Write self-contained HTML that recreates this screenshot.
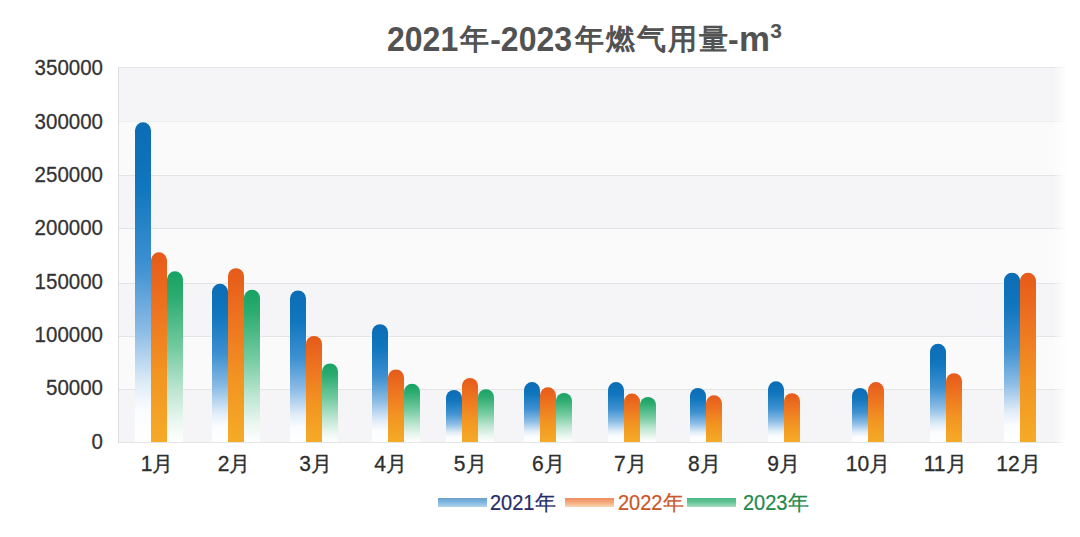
<!DOCTYPE html>
<html><head><meta charset="utf-8">
<style>
html,body{margin:0;padding:0;background:#fff;}
body{width:1080px;height:537px;position:relative;overflow:hidden;font-family:"Liberation Sans",sans-serif;}
svg{position:absolute;left:0;top:0;}
.title{position:absolute;left:387px;top:20px;font-size:32px;font-weight:bold;color:#525252;line-height:40px;white-space:nowrap;}
.cj{font-size:29px;letter-spacing:2px;position:relative;top:-2px;}
.d{display:inline-block;transform:scaleY(1.08);transform-origin:0 29px;}
.title sup{font-size:21px;vertical-align:top;position:relative;top:-9.5px;margin-left:3px;}
.yl{position:absolute;left:0;width:103px;text-align:right;font-size:20.5px;line-height:24px;color:#333;-webkit-text-stroke:0.25px #333;transform:scaleY(1.07);transform-origin:0 19.1px;}
.dx{display:inline-block;transform:scaleY(1.07);transform-origin:0 19.3px;}
.xl{position:absolute;top:452px;width:80px;text-align:center;font-size:21px;line-height:24px;color:#2e2e2e;-webkit-text-stroke:0.3px #2e2e2e;}
.ds{display:inline-block;transform:scaleY(1.09);transform-origin:0 19px;}
.c2{font-size:21px;}
.lg{position:absolute;top:491px;font-size:20px;line-height:24px;white-space:nowrap;-webkit-text-stroke:0.2px currentColor;}
.sw{position:absolute;height:9px;width:49px;top:498px;}
</style></head><body>
<svg width="1080" height="537" viewBox="0 0 1080 537">
<defs>
<linearGradient id="gb" x1="0" y1="0" x2="0" y2="1">
<stop offset="0" stop-color="#0b6cb4"/>
<stop offset="0.2" stop-color="#1076be"/>
<stop offset="0.45" stop-color="#3f91d1"/>
<stop offset="0.65" stop-color="#8abbe5"/>
<stop offset="0.82" stop-color="#e0edf8"/>
<stop offset="0.9" stop-color="#fafcff"/>
<stop offset="1" stop-color="#ffffff"/>
</linearGradient>
<linearGradient id="go" x1="0" y1="0" x2="0" y2="1">
<stop offset="0" stop-color="#e65a1a"/>
<stop offset="0.3" stop-color="#ed7420"/>
<stop offset="0.65" stop-color="#f29522"/>
<stop offset="1" stop-color="#f5ab27"/>
</linearGradient>
<linearGradient id="gg" x1="0" y1="0" x2="0" y2="1">
<stop offset="0" stop-color="#17a263"/>
<stop offset="0.15" stop-color="#2dac70"/>
<stop offset="0.45" stop-color="#74cba0"/>
<stop offset="0.7" stop-color="#bee6d2"/>
<stop offset="0.88" stop-color="#eaf7f0"/>
<stop offset="1" stop-color="#ffffff"/>
</linearGradient>
<linearGradient id="fade" x1="0" y1="0" x2="1" y2="0">
<stop offset="0" stop-color="#fff" stop-opacity="0"/>
<stop offset="1" stop-color="#fff" stop-opacity="1"/>
</linearGradient>
</defs>
<rect x="118" y="67" width="948" height="54" fill="#f5f5f7"/><rect x="118" y="121" width="948" height="54" fill="#fafafb"/><rect x="118" y="175" width="948" height="53" fill="#f5f5f7"/><rect x="118" y="228" width="948" height="55" fill="#fafafb"/><rect x="118" y="283" width="948" height="53" fill="#f5f5f7"/><rect x="118" y="336" width="948" height="53" fill="#fafafb"/><rect x="118" y="389" width="948" height="53" fill="#f5f5f7"/>
<rect x="118" y="67" width="946" height="1" fill="#e3e4e6"/><rect x="118" y="121" width="946" height="1" fill="#eeeff1"/><rect x="118" y="175" width="946" height="1" fill="#e3e4e6"/><rect x="118" y="228" width="946" height="1" fill="#e3e4e6"/><rect x="118" y="283" width="946" height="1" fill="#e3e4e6"/><rect x="118" y="336" width="946" height="1" fill="#e3e4e6"/><rect x="118" y="389" width="946" height="1" fill="#e3e4e6"/><rect x="118" y="442" width="946" height="1" fill="#e3e4e6"/><rect x="118" y="67" width="1" height="376" fill="#dcdde0"/>
<rect x="1053" y="60" width="14" height="390" fill="url(#fade)"/>
<path d="M135.0 442 V130.3 A8 8 0 0 1 151.0 130.3 V442 Z" fill="url(#gb)"/><path d="M151.0 442 V260.3 A8 8 0 0 1 167.0 260.3 V442 Z" fill="url(#go)"/><path d="M167.0 442 V279.3 A8 8 0 0 1 183.0 279.3 V442 Z" fill="url(#gg)"/><path d="M212.0 442 V291.8 A8 8 0 0 1 228.0 291.8 V442 Z" fill="url(#gb)"/><path d="M228.0 442 V276.2 A8 8 0 0 1 244.0 276.2 V442 Z" fill="url(#go)"/><path d="M244.0 442 V297.8 A8 8 0 0 1 260.0 297.8 V442 Z" fill="url(#gg)"/><path d="M290.0 442 V298.4 A8 8 0 0 1 306.0 298.4 V442 Z" fill="url(#gb)"/><path d="M306.0 442 V344.0 A8 8 0 0 1 322.0 344.0 V442 Z" fill="url(#go)"/><path d="M322.0 442 V371.5 A8 8 0 0 1 338.0 371.5 V442 Z" fill="url(#gg)"/><path d="M372.0 442 V332.2 A8 8 0 0 1 388.0 332.2 V442 Z" fill="url(#gb)"/><path d="M388.0 442 V377.4 A8 8 0 0 1 404.0 377.4 V442 Z" fill="url(#go)"/><path d="M404.0 442 V391.8 A8 8 0 0 1 420.0 391.8 V442 Z" fill="url(#gg)"/><path d="M446.0 442 V398.0 A8 8 0 0 1 462.0 398.0 V442 Z" fill="url(#gb)"/><path d="M462.0 442 V386.0 A8 8 0 0 1 478.0 386.0 V442 Z" fill="url(#go)"/><path d="M478.0 442 V397.2 A8 8 0 0 1 494.0 397.2 V442 Z" fill="url(#gg)"/><path d="M524.0 442 V390.1 A8 8 0 0 1 540.0 390.1 V442 Z" fill="url(#gb)"/><path d="M540.0 442 V395.3 A8 8 0 0 1 556.0 395.3 V442 Z" fill="url(#go)"/><path d="M556.0 442 V400.9 A8 8 0 0 1 572.0 400.9 V442 Z" fill="url(#gg)"/><path d="M608.0 442 V390.1 A8 8 0 0 1 624.0 390.1 V442 Z" fill="url(#gb)"/><path d="M624.0 442 V401.6 A8 8 0 0 1 640.0 401.6 V442 Z" fill="url(#go)"/><path d="M640.0 442 V405.0 A8 8 0 0 1 656.0 405.0 V442 Z" fill="url(#gg)"/><path d="M690.0 442 V396.0 A8 8 0 0 1 706.0 396.0 V442 Z" fill="url(#gb)"/><path d="M706.0 442 V403.3 A8 8 0 0 1 722.0 403.3 V442 Z" fill="url(#go)"/><path d="M768.0 442 V389.3 A8 8 0 0 1 784.0 389.3 V442 Z" fill="url(#gb)"/><path d="M784.0 442 V401.2 A8 8 0 0 1 800.0 401.2 V442 Z" fill="url(#go)"/><path d="M852.0 442 V396.0 A8 8 0 0 1 868.0 396.0 V442 Z" fill="url(#gb)"/><path d="M868.0 442 V390.1 A8 8 0 0 1 884.0 390.1 V442 Z" fill="url(#go)"/><path d="M930.0 442 V351.8 A8 8 0 0 1 946.0 351.8 V442 Z" fill="url(#gb)"/><path d="M946.0 442 V381.2 A8 8 0 0 1 962.0 381.2 V442 Z" fill="url(#go)"/><path d="M1004.0 442 V280.7 A8 8 0 0 1 1020.0 280.7 V442 Z" fill="url(#gb)"/><path d="M1020.0 442 V280.8 A8 8 0 0 1 1036.0 280.8 V442 Z" fill="url(#go)"/>
</svg>
<div class="title"><span class="d">2021</span><span class="cj" style="margin-left:2px">年</span><span style="margin-left:-1px;position:relative;top:-1px">-</span><span class="d">2023</span><span class="cj" style="margin-left:3px">年燃气用量</span><span style="margin-left:-2px;position:relative;top:-1px">-</span><span class="d" style="transform:scale(1.09,1.08)">m</span><sup>3</sup></div>
<div class="yl" style="top:56.4px">350000</div><div class="yl" style="top:109.7px">300000</div><div class="yl" style="top:163.0px">250000</div><div class="yl" style="top:216.3px">200000</div><div class="yl" style="top:269.6px">150000</div><div class="yl" style="top:322.9px">100000</div><div class="yl" style="top:376.2px">50000</div><div class="yl" style="top:429.5px">0</div>
<div class="xl" style="left:117.1px"><span class="dx">1</span>月</div><div class="xl" style="left:194.0px"><span class="dx">2</span>月</div><div class="xl" style="left:275.6px"><span class="dx">3</span>月</div><div class="xl" style="left:350.6px"><span class="dx">4</span>月</div><div class="xl" style="left:430.2px"><span class="dx">5</span>月</div><div class="xl" style="left:508.4px"><span class="dx">6</span>月</div><div class="xl" style="left:590.3px"><span class="dx">7</span>月</div><div class="xl" style="left:664.4px"><span class="dx">8</span>月</div><div class="xl" style="left:743.5px"><span class="dx">9</span>月</div><div class="xl" style="left:828.0px"><span class="dx">10</span>月</div><div class="xl" style="left:905.1px"><span class="dx">11</span>月</div><div class="xl" style="left:978.4px"><span class="dx">12</span>月</div>
<div class="sw" style="left:438px;background:linear-gradient(#6a9fcc,#7db6e2 45%,#b3d3ea);"></div>
<div class="lg" style="left:490px;color:#272c6c;"><span class="ds">2021</span><span class="c2">年</span></div>
<div class="sw" style="left:565px;background:linear-gradient(#ec8d5e,#f4a678 45%,#f9d8b2);"></div>
<div class="lg" style="left:618px;color:#c9582a;"><span class="ds">2022</span><span class="c2">年</span></div>
<div class="sw" style="left:687px;background:linear-gradient(#4cb485,#60c396 45%,#aadcc5);"></div>
<div class="lg" style="left:743px;color:#1f8a4c;"><span class="ds">2023</span><span class="c2">年</span></div>
</body></html>
